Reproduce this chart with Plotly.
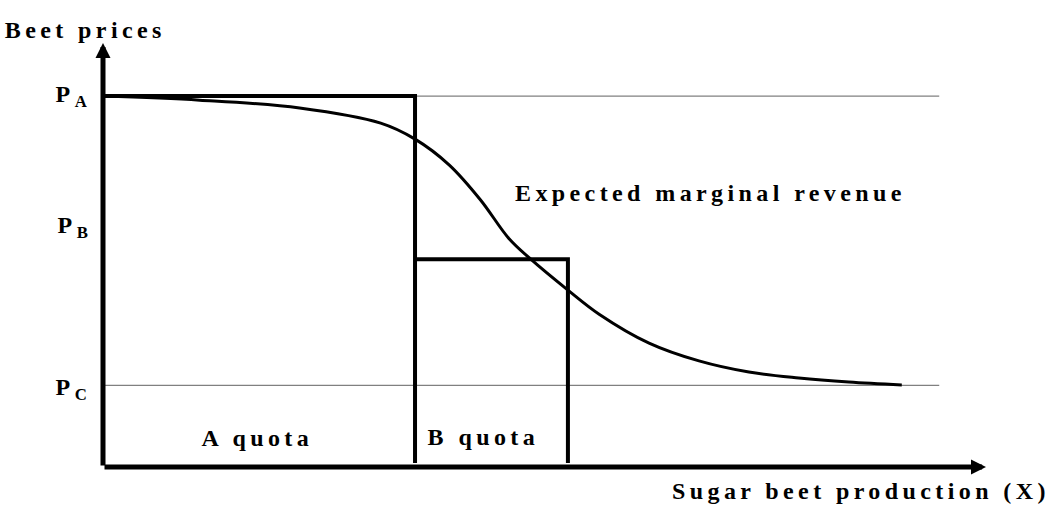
import plotly.graph_objects as go

# ---- data (schematic units) ----
price_levels = {"PA": 100, "PB": 56, "PC": 22}
quota_a_end = 100
quota_b_end = 149
ref_line_end = 268
x_axis_tip = 283
y_axis_tip = 114.3

curve_x = [0, 31, 63, 89, 100, 111, 121, 130, 137, 149, 159, 175, 191, 207, 223, 239, 256]
curve_y = [100, 98.9, 96.8, 92.7, 88.4, 81.4, 72, 61.7, 56.1, 47.7, 41.2, 33.4, 28.6, 25.6, 24.0, 22.9, 22.1]

quota_bottom = 1.1

FONT = "Liberation Serif, Times New Roman, serif"
fig = go.Figure()

# gray reference lines at P_A and P_C
for lvl in (price_levels["PA"], price_levels["PC"]):
    fig.add_trace(go.Scatter(x=[0, ref_line_end], y=[lvl, lvl], mode="lines",
                             line=dict(color="#808080", width=1.3), hoverinfo="skip"))

# A quota box
fig.add_trace(go.Scatter(x=[0, quota_a_end, quota_a_end],
                         y=[price_levels["PA"], price_levels["PA"], quota_bottom],
                         mode="lines", line=dict(color="black", width=4), hoverinfo="skip"))
# B quota box
fig.add_trace(go.Scatter(x=[quota_a_end, quota_b_end, quota_b_end],
                         y=[price_levels["PB"], price_levels["PB"], quota_bottom],
                         mode="lines", line=dict(color="black", width=4), hoverinfo="skip"))

# expected marginal revenue curve
fig.add_trace(go.Scatter(x=curve_x, y=curve_y, mode="lines",
                         line=dict(color="black", width=3, shape="spline", smoothing=1),
                         hoverinfo="skip"))

annotations = []
# axes with arrows
annotations.append(dict(x=x_axis_tip, y=0, ax=0, ay=0, xref="x", yref="y", axref="x", ayref="y",
                        showarrow=True, arrowhead=2, arrowwidth=5, arrowsize=0.6,
                        arrowcolor="black", text=""))
annotations.append(dict(x=0, y=y_axis_tip, ax=0, ay=0, xref="x", yref="y", axref="x", ayref="y",
                        showarrow=True, arrowhead=2, arrowwidth=5, arrowsize=0.6,
                        arrowcolor="black", text=""))

labels = [
    ("Beet prices", -5.5, 117.9),
    ("Expected marginal revenue", 194.6, 74.0),
    ("A quota", 49.5, 7.7),
    ("B quota", 121.8, 8.2),
    ("Sugar beet production (X)", 243, -6.5),
    ("P<sub>A</sub>", -9.4, 100.0),
    ("P<sub>B</sub>", -9.0, 64.6),
    ("P<sub>C</sub>", -9.4, 20.9),
]
for txt, x, y in labels:
    annotations.append(dict(text=txt, x=x, y=y, xref="x", yref="y", showarrow=False,
                            xanchor="center", yanchor="middle",
                            font=dict(family=FONT, size=24, color="black", weight="bold")))

fig.update_layout(
    width=1050, height=505,
    margin=dict(l=0, r=0, t=0, b=0),
    paper_bgcolor="white", plot_bgcolor="white",
    showlegend=False,
    xaxis=dict(range=[-33.01, 303.5], visible=False, fixedrange=True),
    yaxis=dict(range=[-10.24, 125.9], visible=False, fixedrange=True),
    annotations=annotations,
)

js = """
document.body.style.margin='0';
document.body.style.padding='0';
function _ls(){
  document.querySelectorAll('.annotation-text').forEach(function(t){
    t.style.letterSpacing='4.4px';
  });
}
_ls();
setTimeout(_ls, 0);
setTimeout(_ls, 200);
"""
fig.write_html("out.html", post_script=js, config={"displayModeBar": False})
